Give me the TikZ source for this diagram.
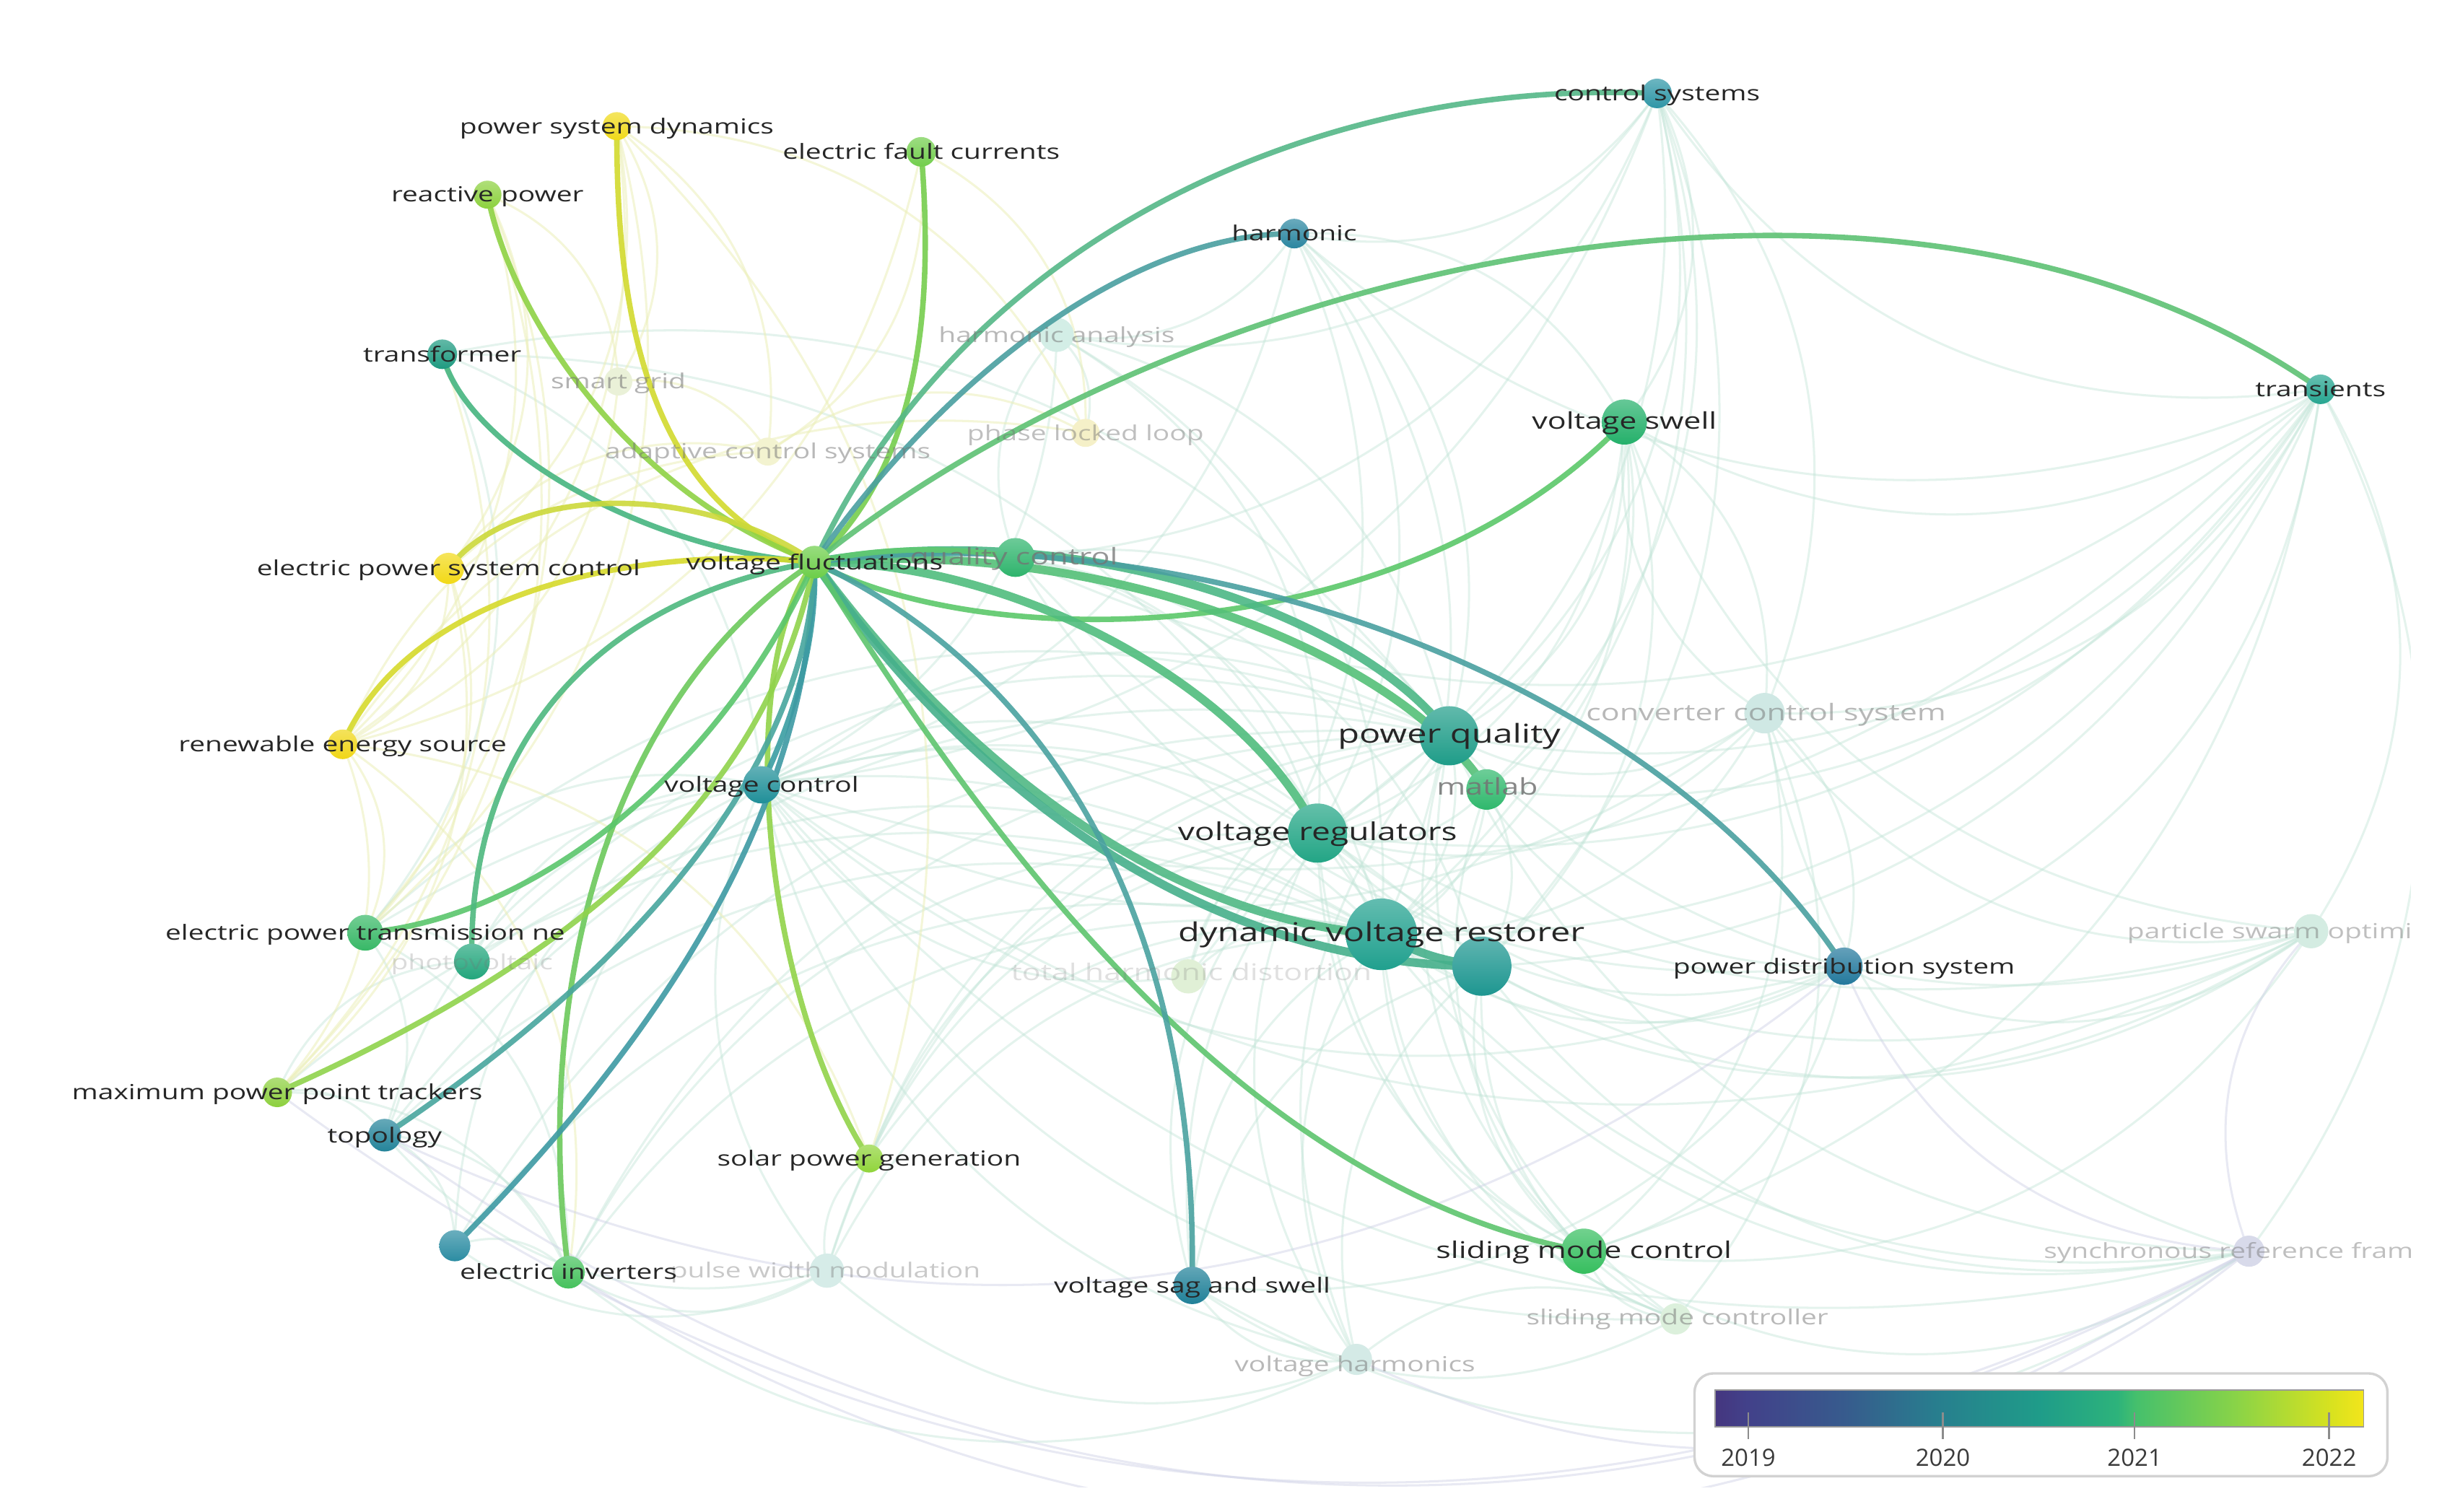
\documentclass[tikz,border=0pt]{standalone}
\usepackage{fontspec}
\setmainfont{Open Sans}
\usepackage{graphicx}
\usetikzlibrary{calc}
\pgfdeclarelayer{fedges}\pgfdeclarelayer{fnodes}\pgfdeclarelayer{hedges}\pgfdeclarelayer{labels}\pgfdeclarelayer{legend}
\pgfsetlayers{fedges,fnodes,hedges,main,labels,legend}
% node colours
\definecolor{cPSD}{HTML}{F0DA1A}\definecolor{cEFC}{HTML}{72CE4C}\definecolor{cRP}{HTML}{8DD13F}
\definecolor{cCS}{HTML}{2E96A6}\definecolor{cHARM}{HTML}{2A86A0}\definecolor{cTRA}{HTML}{1E9A80}
\definecolor{cVS}{HTML}{24B06A}\definecolor{cTRN}{HTML}{26A590}\definecolor{cEPSC}{HTML}{F2D916}
\definecolor{cVF}{HTML}{6CCE48}\definecolor{cQC}{HTML}{2EB46C}\definecolor{cRES}{HTML}{F0D616}
\definecolor{cPQ}{HTML}{1E9C88}\definecolor{cMAT}{HTML}{2FB86C}\definecolor{cVC}{HTML}{1F8F98}
\definecolor{cVR}{HTML}{22A585}\definecolor{cDVR}{HTML}{20A08E}\definecolor{cBIG}{HTML}{1D9690}
\definecolor{cPDS}{HTML}{22789C}\definecolor{cEPTN}{HTML}{37B866}\definecolor{cPV}{HTML}{22A67C}
\definecolor{cMPPT}{HTML}{8DD03E}\definecolor{cTOPO}{HTML}{24849A}\definecolor{cSPG}{HTML}{90D43A}
\definecolor{cUNL}{HTML}{2B8CA2}\definecolor{cEI}{HTML}{45C15C}\definecolor{cVSS}{HTML}{1F8098}
\definecolor{cSMC}{HTML}{35BE5E}
% faint node colours
\definecolor{fHA}{HTML}{D3EEE6}\definecolor{fSG}{HTML}{EAF1D8}\definecolor{fACS}{HTML}{F3F3D0}
\definecolor{fPLL}{HTML}{F5F0C8}\definecolor{fCCS}{HTML}{CFE8E4}\definecolor{fTHD}{HTML}{E0F0D6}
\definecolor{fPWM}{HTML}{D6ECE8}\definecolor{fSMCR}{HTML}{DCF0DC}\definecolor{fVH}{HTML}{D4EAE6}
\definecolor{fPSO}{HTML}{D4ECE2}\definecolor{fSRF}{HTML}{D8DAEA}
% edge colours
\definecolor{ePSD}{HTML}{D2DA2E}\definecolor{eRP}{HTML}{8FD245}\definecolor{eEFC}{HTML}{76CE4E}
\definecolor{eTRA}{HTML}{46B580}\definecolor{eCS}{HTML}{55B888}\definecolor{eHARM}{HTML}{4A9FA0}
\definecolor{eTRN}{HTML}{5EC274}\definecolor{eVS}{HTML}{5CC86A}\definecolor{ePQ}{HTML}{4CB886}
\definecolor{eMAT}{HTML}{55C078}\definecolor{eVR}{HTML}{50BD7E}\definecolor{eDVR}{HTML}{50B985}
\definecolor{eBIG}{HTML}{46B08B}\definecolor{ePDS}{HTML}{4AA0A0}\definecolor{eSMC}{HTML}{5EC56E}
\definecolor{eVSS}{HTML}{4AA2A0}\definecolor{eSPG}{HTML}{92D34A}\definecolor{eVC}{HTML}{3A9EA2}
\definecolor{eEI}{HTML}{6CC95C}\definecolor{eUNL}{HTML}{3D9AA3}\definecolor{eTOPO}{HTML}{48A69E}
\definecolor{eMPPT}{HTML}{90D34C}\definecolor{eEPTN}{HTML}{5AC66C}\definecolor{ePV}{HTML}{4EB97F}
\definecolor{eEPSC}{HTML}{CCD93A}\definecolor{eRES}{HTML}{D6DA2C}\definecolor{eQC}{HTML}{60C970}
\definecolor{fe}{HTML}{BFE4D6}\definecolor{fy}{HTML}{ECEFB8}\definecolor{fp}{HTML}{CDD0E6}
\definecolor{labc}{HTML}{262626}\definecolor{legb}{HTML}{D2D2D2}\definecolor{legt}{HTML}{3A3A3A}
% viridis legend bar
\definecolor{v0}{HTML}{45367F}\definecolor{v1}{HTML}{42418A}\definecolor{v2}{HTML}{375B8D}
\definecolor{v3}{HTML}{27808E}\definecolor{v4}{HTML}{1F9C89}\definecolor{v5}{HTML}{2DB37B}
\definecolor{v6}{HTML}{46C06C}\definecolor{v7}{HTML}{88D348}\definecolor{v8}{HTML}{D8E21F}
\definecolor{v9}{HTML}{F3E51B}
\pgfdeclarehorizontalshading{viridisbar}{100bp}{color(0bp)=(v0); color(25bp)=(v0); color(27.5bp)=(v1); color(35bp)=(v2); color(42.5bp)=(v3); color(50bp)=(v4); color(56bp)=(v5); color(57.5bp)=(v6); color(65bp)=(v7); color(72.5bp)=(v8); color(75bp)=(v9); color(100bp)=(v9)}
\newcommand\stx[1]{\scalebox{1.35}[1]{#1}}
\newcommand\hedge[5]{\draw[#1] (#2.center) .. controls (#3) and (#4) .. (#5.center);}
\tikzset{
  kw/.style={circle, inner sep=0pt, minimum size=#1},
  nf/.style={top color=#1!70!white, bottom color=#1, draw=none},
  lab/.style={inner sep=0pt, text=labc, text height=0.78em, text depth=0.24em, font=\fontsize{7.6}{9}\selectfont},
  labM/.style={lab, font=\fontsize{8.4}{10}\selectfont},
  labL/.style={lab, font=\fontsize{9}{11}\selectfont},
  labXL/.style={lab, font=\fontsize{9.5}{11}\selectfont},
  flab/.style={lab, text=black!55, text opacity=#1},
  flabM/.style={labM, text=black!55, text opacity=#1},
  faintedge/.style={line width=0.8pt, draw=fe, opacity=0.42},
  faintyel/.style={line width=0.8pt, draw=fy, opacity=0.55},
  faintpur/.style={line width=0.8pt, draw=fp, opacity=0.45},
  hl/.style={line width=2pt, opacity=0.9, line cap=round},
  hlthick/.style={line width=3.1pt, opacity=0.9, line cap=round},
  legtext/.style={inner sep=0pt, text=legt, font=\fontsize{8.7}{10}\selectfont}
}
\begin{document}
\begin{tikzpicture}[x=0.02cm, y=-0.02cm]
\useasboundingbox (0,0) rectangle (1568,971);
\begin{pgfonlayer}{fedges}
  \fill[white] (0,0) rectangle (1568,971);
\end{pgfonlayer}
% ---------- main keyword nodes ----------
\node[kw=0.36cm, nf=cPSD] (psd) at (396,81) {};
\node[kw=0.38cm, nf=cEFC] (efc) at (591.5,97.5) {};
\node[kw=0.36cm, nf=cRP] (rp) at (313,125) {};
\node[kw=0.38cm, nf=cCS] (cs) at (1064,60) {};
\node[kw=0.38cm, nf=cHARM] (harm) at (831,150) {};
\node[kw=0.38cm, nf=cTRA] (tra) at (284,227.5) {};
\node[kw=0.58cm, nf=cVS] (vs) at (1043,271) {};
\node[kw=0.38cm, nf=cTRN] (trn) at (1490,250) {};
\node[kw=0.40cm, nf=cEPSC] (epsc) at (288,365) {};
\node[kw=0.50cm, nf=cQC] (qc) at (652,358) {};
\node[kw=0.42cm, nf=cVF] (vf) at (523,361) {};
\node[kw=0.38cm, nf=cRES] (res) at (220,478) {};
\node[kw=0.76cm, nf=cPQ] (pq) at (930.5,472.5) {};
\node[kw=0.52cm, nf=cMAT] (mat) at (954.5,507) {};
\node[kw=0.48cm, nf=cVC] (vc) at (489,504) {};
\node[kw=0.76cm, nf=cVR] (vr) at (846,535) {};
\node[kw=0.76cm, nf=cBIG] (big) at (951.5,620.5) {};
\node[kw=0.92cm, nf=cDVR] (dvr) at (887,600) {};
\node[kw=0.48cm, nf=cPDS] (pds) at (1184,620.5) {};
\node[kw=0.46cm, nf=cEPTN] (eptn) at (234.5,599) {};
\node[kw=0.46cm, nf=cPV] (pv) at (303,617.5) {};
\node[kw=0.38cm, nf=cMPPT] (mppt) at (178,701.5) {};
\node[kw=0.42cm, nf=cTOPO] (topo) at (247,729) {};
\node[kw=0.36cm, nf=cSPG] (spg) at (558,744) {};
\node[kw=0.40cm, nf=cUNL] (unl) at (292,800) {};
\node[kw=0.42cm, nf=cEI] (ei) at (365,817) {};
\node[kw=0.48cm, nf=cVSS] (vss) at (765.5,825.5) {};
\node[kw=0.58cm, nf=cSMC] (smc) at (1017,803.5) {};
% ---------- faint nodes ----------
\begin{pgfonlayer}{fnodes}
\begin{scope}
  \clip (0,15) rectangle (1548,955);
  \node[kw=0.44cm, fill=fHA] (ha) at (678.5,215) {};
  \node[kw=0.36cm, fill=fSG] (sg) at (397,245) {};
  \node[kw=0.36cm, fill=fACS] (acs) at (493,290) {};
  \node[kw=0.36cm, fill=fPLL] (pll) at (697,278) {};
  \node[kw=0.52cm, fill=fCCS] (ccs) at (1133,458) {};
  \node[kw=0.44cm, fill=fTHD] (thd) at (763,627) {};
  \node[kw=0.44cm, fill=fPWM] (pwm) at (531,816) {};
  \node[kw=0.40cm, fill=fSMCR] (smcr) at (1076,847) {};
  \node[kw=0.40cm, fill=fVH] (vh) at (871,873) {};
  \node[kw=0.44cm, fill=fPSO] (pso) at (1484,598) {};
  \node[kw=0.40cm, fill=fSRF] (srf) at (1444,803.5) {};
\end{scope}
\end{pgfonlayer}
% ---------- faint background links ----------
\begin{pgfonlayer}{fedges}
\begin{scope}
  \clip (0,15) rectangle (1548,955);
  \foreach \a/\b in {trn/cs, trn/vs, trn/pq, trn/dvr, trn/vr, trn/ccs, trn/pso, trn/srf, trn/pds, trn/harm, trn/smc, trn/big, trn/mat,
    cs/harm, cs/vs, cs/pq, cs/dvr, cs/vr, cs/mat, cs/ha, cs/ccs, cs/big,
    harm/ha, harm/pq, harm/dvr, harm/vr, harm/vc, harm/vs, harm/thd,
    srf/pq, srf/dvr, srf/ccs, srf/vr, srf/smc, srf/vss, srf/big,
    pso/pq, pso/dvr, pso/ccs, pso/pds, pso/smc, pso/vs, pso/vr, pso/big,
    ccs/pq, ccs/dvr, ccs/vr, ccs/pds, ccs/smc, ccs/smcr, ccs/vs,
    pds/pq, pds/dvr, pds/vr, pds/vss, pds/smc, pds/big,
    vh/dvr, vh/pq, vh/vr, vh/vss, vh/ei, vh/pwm, vh/smcr, vh/big,
    smcr/dvr, smcr/pq, smcr/vr, smcr/smc, smcr/vss, smcr/big,
    pwm/ei, pwm/topo, pwm/dvr, pwm/pq, pwm/vc, pwm/spg, pwm/unl, pwm/vr,
    eptn/pq, eptn/dvr, eptn/vc, eptn/ei, eptn/pv, eptn/topo,
    mppt/pv, mppt/ei, mppt/topo, mppt/dvr,
    topo/dvr, topo/pq, topo/vc, topo/ei, topo/unl,
    unl/dvr, unl/ei, unl/vc, unl/pq,
    ei/dvr, ei/pq, ei/vc, ei/vr,
    spg/dvr, spg/pq, spg/vr,
    vss/dvr, vss/pq, vss/vr, vss/big,
    smc/dvr, smc/pq, smc/vr, smc/mat, smc/big,
    thd/dvr, thd/pq, thd/vr, thd/vc,
    vs/pq, vs/dvr, vs/vr, vs/mat, vs/ccs, vs/big,
    qc/pq, qc/dvr, qc/vr, qc/ha, qc/big,
    ha/pq, ha/dvr, ha/vr, ha/pll, ha/vc,
    tra/pq, tra/dvr, tra/vc, tra/eptn,
    vc/pq, vc/dvr, vc/vr, vc/big,
    pq/vr, pq/dvr, vr/dvr, mat/dvr, mat/vr, mat/big, pv/dvr, pv/pq, pv/vc,
    trn/vc, trn/qc, cs/vc, cs/qc, pso/vc, pso/qc, srf/vc, vh/vc, smcr/vc, ccs/vc, pds/vc, pds/qc}
    {\draw[faintedge] (\a.center) to[bend left=32] (\b.center);}
  \foreach \a/\b in {psd/acs, psd/sg, psd/res, psd/epsc, psd/pll, rp/sg, rp/epsc, rp/res, epsc/res, epsc/acs,
    res/mppt, res/acs, res/pll, acs/pll, efc/pll, efc/acs, sg/acs, res/spg, res/eptn, epsc/mppt,
    rp/eptn, psd/eptn, efc/res, psd/spg, rp/mppt, tra/mppt, epsc/eptn, res/ei, sg/res}
    {\draw[faintyel] (\a.center) to[bend left=32] (\b.center);}
  \foreach \a/\b in {srf/topo, srf/ei, srf/pso, srf/pds, pds/topo, srf/vh, srf/mppt}
    {\draw[faintpur] (\a.center) to[bend left=32] (\b.center);}
\end{scope}
\end{pgfonlayer}
% ---------- highlighted links of "voltage fluctuations" ----------
\begin{pgfonlayer}{hedges}
  \hedge{hl,draw=ePSD}{vf}{410,320}{396,190}{psd}
  \hedge{hl,draw=eRP}{vf}{410,320}{330,210}{rp}
  \hedge{hl,draw=eEFC}{vf}{590,300}{600,200}{efc}
  \hedge{hl,draw=eTRA}{vf}{420,355}{300,290}{tra}
  \hedge{hl,draw=eCS}{vf}{620,150}{850,50}{cs}
  \hedge{hl,draw=eHARM}{vf}{600,250}{720,150}{harm}
  \hedge{hl,draw=eTRN}{vf}{760,170}{1220,60}{trn}
  \hedge{hl,draw=eVS}{vf}{630,420}{900,420}{vs}
  \hedge{hlthick,draw=ePQ}{vf}{700,330}{880,400}{pq}
  \hedge{hlthick,draw=eMAT}{vf}{710,345}{900,420}{mat}
  \hedge{hlthick,draw=eVR}{vf}{650,360}{800,440}{vr}
  \hedge{hlthick,draw=eDVR}{vf}{610,480}{740,590}{dvr}
  \hedge{hlthick,draw=eBIG}{vf}{610,490}{760,620}{big}
  \draw[hlthick,draw=eBIG] (dvr.center) to[bend right=10] (big.center);
  \hedge{hl,draw=ePDS}{vf}{760,330}{1060,430}{pds}
  \hedge{hl,draw=eSMC}{vf}{610,500}{780,760}{smc}
  \hedge{hl,draw=eVSS}{vf}{650,420}{770,560}{vss}
  \hedge{hl,draw=eSPG}{vf}{470,430}{490,640}{spg}
  \hedge{hl,draw=eVC}{vf}{525,420}{505,470}{vc}
  \hedge{hl,draw=eEI}{vf}{400,440}{340,620}{ei}
  \hedge{hl,draw=eUNL}{vf}{520,480}{470,620}{unl}
  \hedge{hl,draw=eTOPO}{vf}{520,470}{440,600}{topo}
  \hedge{hl,draw=eMPPT}{vf}{500,470}{430,590}{mppt}
  \hedge{hl,draw=eEPTN}{vf}{460,500}{340,590}{eptn}
  \hedge{hl,draw=ePV}{vf}{380,385}{300,480}{pv}
  \hedge{hl,draw=eEPSC}{vf}{450,310}{330,310}{epsc}
  \hedge{hl,draw=eRES}{vf}{420,350}{265,375}{res}
  \hedge{hl,draw=eQC}{vf}{570,350}{620,352}{qc}
\end{pgfonlayer}
% ---------- labels ----------
\begin{pgfonlayer}{labels}
\begin{scope}
  \clip (0,15) rectangle (1548,955);
  \node[flab=0.55] (lsg) at (sg) {\stx{smart grid}};
  \node[flab=0.5] (lha) at (ha) {\stx{harmonic analysis}};
  \node[flab=0.5] (lacs) at (acs) {\stx{adaptive control systems}};
  \node[flab=0.45] (lpll) at (pll) {\stx{phase locked loop}};
  \node[flabM=0.75] (lqc) at (651,358) {\stx{quality control}};
  \node[flabM=0.5] (lccs) at (1134,458) {\stx{converter control system}};
  \node[flabM=0.85] (lmat) at (955,506) {\stx{matlab}};
  \node[flab=0.25] (lpv) at (303,618) {\stx{photovoltaic}};
  \node[flabM=0.22] (lthd) at (765,625) {\stx{total harmonic distortion}};
  \node[flab=0.38] (lpwm) at (530,816) {\stx{pulse width modulation}};
  \node[flab=0.45] (lpso) at (1483,598) {\stx{particle swarm optimization}};
  \node[flab=0.45] (lsrf) at (1436,803.5) {\stx{synchronous reference frame}};
  \node[flab=0.5] (lsmcr) at (1077,846) {\stx{sliding mode controller}};
  \node[flab=0.5] (lvh) at (870,876) {\stx{voltage harmonics}};
\end{scope}
  \node[lab] (lpsd) at (psd) {\stx{power system dynamics}};
  \node[lab] (lefc) at (efc) {\stx{electric fault currents}};
  \node[lab] (lrp) at (rp) {\stx{reactive power}};
  \node[lab] (lcs) at (cs) {\stx{control systems}};
  \node[lab] (lharm) at (harm) {\stx{harmonic}};
  \node[lab] (ltra) at (tra) {\stx{transformer}};
  \node[labM] (lvs) at (vs) {\stx{voltage swell}};
  \node[lab] (ltrn) at (trn) {\stx{transients}};
  \node[lab] (lepsc) at (epsc) {\stx{electric power system control}};
  \node[lab] (lvf) at (vf) {\stx{voltage fluctuations}};
  \node[lab] (lres) at (res) {\stx{renewable energy source}};
  \node[labXL] (lpq) at (pq) {\stx{power quality}};
  \node[lab] (lvc) at (vc) {\stx{voltage control}};
  \node[labL] (lvr) at (vr) {\stx{voltage regulators}};
  \node[labXL] (ldvr) at (dvr) {\stx{dynamic voltage restorer}};
  \node[lab] (lpds) at (pds) {\stx{power distribution system}};
  \node[lab] (leptn) at (eptn) {\stx{electric power transmission ne}};
  \node[lab] (lmppt) at (mppt) {\stx{maximum power point trackers}};
  \node[lab] (ltopo) at (topo) {\stx{topology}};
  \node[lab] (lspg) at (spg) {\stx{solar power generation}};
  \node[lab] (lei) at (ei) {\stx{electric inverters}};
  \node[lab] (lvss) at (vss) {\stx{voltage sag and swell}};
  \node[labM] (lsmc) at (smc) {\stx{sliding mode control}};
\end{pgfonlayer}
% ---------- legend ----------
\begin{pgfonlayer}{legend}
  \node[draw=legb, line width=0.9pt, fill=white, rounded corners=0.24cm, minimum width=8.9cm, minimum height=1.32cm, inner sep=0pt] (legend) at (1310.5,915) {};
  \node[draw=black!40, line width=0.5pt, shading=viridisbar, minimum width=8.33cm, minimum height=0.47cm, inner sep=0pt] (bar) at (1309.5,904.5) {};
  \foreach \x/\yr in {1122.6/2019, 1247.5/2020, 1370.6/2021, 1495.5/2022}{
    \draw[black!45, line width=0.6pt] (\x,907) -- (\x,924);
    \node[legtext] (y\yr) at (\x,936) {\yr};
  }
\end{pgfonlayer}
\end{tikzpicture}
\end{document}
